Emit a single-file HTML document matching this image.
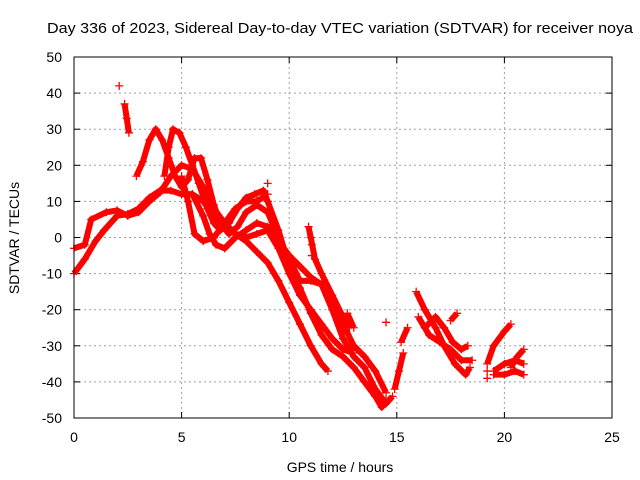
<!DOCTYPE html>
<html><head><meta charset="utf-8"><style>
body{margin:0;background:#fff}
svg{display:block;font-family:"Liberation Sans",sans-serif}
</style></head><body>
<svg id="chart" width="640" height="480">
<text x="47" y="33" font-size="15" textLength="586" lengthAdjust="spacingAndGlyphs">Day 336 of 2023, Sidereal Day-to-day VTEC variation (SDTVAR) for receiver noya</text>
<text x="340" y="472" font-size="14" text-anchor="middle">GPS time / hours</text>
<text transform="translate(19,238) rotate(-90)" font-size="14" text-anchor="middle">SDTVAR / TECUs</text>
<g id="grid"></g><g id="ticks"></g><g id="marks"></g>
<rect x="74" y="57" width="538" height="361" fill="none" stroke="#000" stroke-width="1"/>
</svg>
<script>
const xTicks=[0,5,10,15,20,25];
const yTicks=[50,40,30,20,10,0,-10,-20,-30,-40,-50];
const tracks=[
[[0,-10],[0.5,-6],[1,-1],[1.4,2],[2,6],[2.5,6.5],[3,8],[3.5,11],[4,13],[4.5,13],[5,12],[5.5,12],[6,10],[6.5,6],[7,3],[7.5,1],[8,0],[8.5,1],[9,2],[9.5,-3],[10,-10],[10.5,-16],[11,-20],[11.5,-24],[12,-28],[12.5,-31],[13,-32]],
[[0,-3],[0.5,-2],[0.8,5],[1.5,7],[2,7.5],[2.5,6],[3,7],[3.5,10],[4,12.5],[4.5,17],[5,20],[5.5,19],[6,14],[6.5,8],[7,4],[7.5,1],[8,-1],[8.5,-4],[9,-7],[9.5,-12],[10,-18],[10.5,-24],[11,-30],[11.5,-35],[11.8,-37]],
[[2.9,17],[3.2,21],[3.5,27],[3.8,30],[4.1,27],[4.4,22],[4.7,17],[5,14],[5.3,16],[5.6,22],[5.9,22],[6.2,16],[6.5,9],[6.8,4],[7.2,1],[7.6,3],[8,7],[8.5,9],[9,7],[9.5,0],[10,-6],[10.5,-12],[11,-12],[11.5,-13],[12,-20],[12.5,-28],[13,-33],[13.5,-36],[14,-42],[14.5,-46],[14.8,-44]],
[[4.2,17],[4.4,25],[4.6,30],[4.9,29],[5.2,25],[5.5,20],[5.8,15],[6.2,8],[6.5,4],[6.8,2],[7.2,4],[7.6,8],[8,11],[8.4,12],[8.8,13],[9,10],[9.5,2],[10,-8],[10.5,-14],[11,-21],[11.5,-27],[12,-31],[12.5,-33],[13,-36],[13.5,-40],[14,-44],[14.3,-47],[14.5,-45]],
[[5,17],[5.3,10],[5.6,1],[6,-1],[6.5,0],[7,4],[7.5,8],[8,10],[8.5,10],[9,12]],
[[5.5,12],[6,6],[6.3,1],[6.6,-2],[7,-3],[7.5,0],[8,2],[8.5,4],[9,3],[9.5,-1],[10,-5],[10.5,-8],[11,-11],[11.5,-13],[12,-18],[12.5,-24],[13,-30],[13.5,-33],[14,-37],[14.5,-43]],
[[10.9,3],[11,0],[11.2,-6],[11.5,-10],[12,-16],[12.5,-22],[12.8,-25]],
[[12.7,-21],[13,-25]],
[[14.9,-42],[15.1,-37],[15.3,-32]],
[[15.2,-29],[15.5,-25]],
[[15.9,-15],[16.3,-20],[16.8,-25],[17.2,-30],[17.7,-35],[18.2,-38],[18.4,-36]],
[[16.3,-25],[16.8,-22],[17.2,-25],[17.6,-29],[18,-31],[18.3,-30]],
[[16,-22],[16.5,-27],[17,-29],[17.5,-31],[18,-34],[18.5,-34]],
[[17.5,-23],[17.8,-21]],
[[19.2,-35],[19.5,-30],[20,-26],[20.3,-24]],
[[19.5,-37],[20,-35],[20.5,-34],[20.9,-35]],
[[19.5,-38],[20,-38],[20.5,-37],[20.9,-38]],
[[20.3,-36],[20.6,-33],[20.9,-31]],
[[2.35,37],[2.45,33],[2.55,29]]
];
const outliers=[[2.1,42],[14.5,-23.5],[19.2,-37],[19.2,-39],[9,15],[9,10],[11.05,-2],[11.05,-5],[8.5,12]];
const NS="http://www.w3.org/2000/svg";
const X=v=>74+v*538/25, Y=v=>237.5-v*3.61;
function mk(t,a,p){const e=document.createElementNS(NS,t);for(const k in a)e.setAttribute(k,a[k]);p.appendChild(e);return e;}
const grid=document.getElementById('grid'),ticks=document.getElementById('ticks'),marks=document.getElementById('marks');
xTicks.forEach(v=>{
 if(v>0&&v<25){const g=mk('line',{x1:X(v),x2:X(v),y1:57,y2:418,stroke:'#a0a0a0','stroke-dasharray':'2,3'},grid);
 }
 mk('line',{x1:X(v),x2:X(v),y1:418,y2:412,stroke:'#000'},ticks);mk('line',{x1:X(v),x2:X(v),y1:57,y2:63,stroke:'#000'},ticks);
 const t=mk('text',{x:X(v),y:442,'font-size':14,'text-anchor':'middle'},ticks);t.textContent=v;
 
});
yTicks.forEach(v=>{
 if(v>-50&&v<50){const g=mk('line',{x1:74,x2:612,y1:Y(v),y2:Y(v),stroke:'#a0a0a0','stroke-dasharray':'2,3'},grid);
 }
 mk('line',{x1:74,x2:80,y1:Y(v),y2:Y(v),stroke:'#000'},ticks);mk('line',{x1:612,x2:606,y1:Y(v),y2:Y(v),stroke:'#000'},ticks);
 const t=mk('text',{x:62,y:Y(v)+5,'font-size':14,'text-anchor':'end'},ticks);t.textContent=v;
 
});
function cross(x,y){mk('path',{d:`M${X(x)-4},${Y(y)}h8M${X(x)},${Y(y)-4}v8`,stroke:'#f00','stroke-width':1.3},marks);}
tracks.forEach(tr=>{
 const p=mk('polyline',{points:tr.map(d=>X(d[0])+','+Y(d[1])).join(' '),fill:'none',stroke:'#f00','stroke-width':6,'stroke-linejoin':'round'},marks);
 
 
 tr.forEach(d=>cross(d[0],d[1]));
});
outliers.forEach(d=>cross(d[0],d[1]));
</script>
</body></html>
